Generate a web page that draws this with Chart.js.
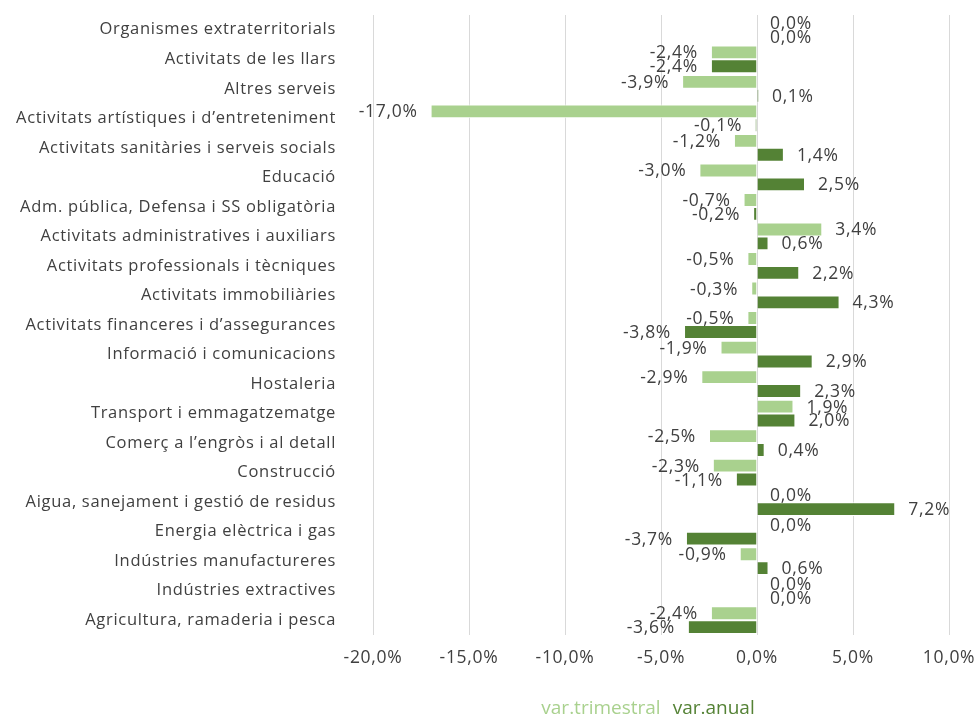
<!DOCTYPE html>
<html>
<head>
<meta charset="utf-8">
<script src="https://cdn.jsdelivr.net/npm/chart.js@4/dist/chart.umd.min.js"></script>
<style>
  html, body { margin: 0; padding: 0; background: #fff; }
  #wrap { width: 975px; height: 718px; }
</style>
</head>
<body>
<div id="wrap"><canvas id="chart" width="975" height="718"></canvas></div>
<script>
const categories = [
  "Organismes extraterritorials",
  "Activitats de les llars",
  "Altres serveis",
  "Activitats artístiques i d’entreteniment",
  "Activitats sanitàries i serveis socials",
  "Educació",
  "Adm. pública, Defensa i SS obligatòria",
  "Activitats administratives i auxiliars",
  "Activitats professionals i tècniques",
  "Activitats immobiliàries",
  "Activitats financeres i d’assegurances",
  "Informació i comunicacions",
  "Hostaleria",
  "Transport i emmagatzematge",
  "Comerç a l’engròs i al detall",
  "Construcció",
  "Aigua, sanejament i gestió de residus",
  "Energia elèctrica i gas",
  "Indústries manufactureres",
  "Indústries extractives",
  "Agricultura, ramaderia i pesca",
];
const varTrimestral = [0.0, -2.4, -3.9, -17.0, -1.2, -3.0, -0.7, 3.4, -0.5, -0.3, -0.5, -1.9, -2.9, 1.9, -2.5, -2.3, 0.0, 0.0, -0.9, 0.0, -2.4];
const varAnual      = [0.0, -2.4, 0.1, -0.1, 1.4, 2.5, -0.2, 0.6, 2.2, 4.3, -3.8, 2.9, 2.3, 2.0, 0.4, -1.1, 7.2, -3.7, 0.6, 0.0, -3.6];
const seriesNames = ["var.trimestral", "var.anual"];
const xMin = -20, xMax = 10, xStep = 5;

const LIGHT = "#a9d18e";
const DARK = "#548235";
const TEXT = "#404040";
const FONT = "'Open Sans', 'Noto Sans', sans-serif";
const SPACING = "0.7px";

function fmtPct(v) {
  return `${v.toFixed(1).replace(".", ",")}%`;
}

// wider text like the original font; chart.js has no letterSpacing option
const spacing = {
  id: "spacing",
  beforeLayout(chart) { chart.ctx.letterSpacing = SPACING; },
  beforeDraw(chart) { chart.ctx.letterSpacing = SPACING; },
};

// value labels at the bar ends, like excel "outside end"
const barLabels = {
  id: "barLabels",
  afterDatasetsDraw(chart) {
    const { ctx } = chart;
    ctx.save();
    ctx.letterSpacing = SPACING;
    ctx.font = `17.5px ${FONT}`;
    ctx.fillStyle = TEXT;
    ctx.textBaseline = "middle";
    chart.data.datasets.forEach((ds, i) => {
      const meta = chart.getDatasetMeta(i);
      meta.data.forEach((el, j) => {
        const v = ds.data[j];
        if (v < 0) {
          ctx.textAlign = "right";
          ctx.fillText(fmtPct(v), el.x - 13, el.y + 1);
        } else {
          ctx.textAlign = "left";
          ctx.fillText(fmtPct(v), el.x + 13, el.y + 1);
        }
      });
    });
    ctx.restore();
  },
};

// text-only legend in series colours
const textLegend = {
  id: "textLegend",
  afterDraw(chart) {
    const { ctx, chartArea } = chart;
    const colors = [LIGHT, DARK];
    const gap = 12;
    ctx.save();
    ctx.letterSpacing = "0px";
    ctx.font = `19px ${FONT}`;
    ctx.textBaseline = "middle";
    ctx.textAlign = "left";
    const widths = seriesNames.map(s => ctx.measureText(s).width);
    const total = widths.reduce((a, b) => a + b, 0) + gap;
    let x = (chartArea.left + chartArea.right) / 2 - 13 - total / 2;
    seriesNames.forEach((s, i) => {
      ctx.fillStyle = colors[i];
      ctx.fillText(s, x, 709);
      x += widths[i] + gap;
    });
    ctx.restore();
  },
};

new Chart(document.getElementById("chart"), {
  type: "bar",
  data: {
    labels: categories,
    datasets: [
      { label: seriesNames[0], data: varTrimestral, backgroundColor: LIGHT, borderColor: "#ffffff", borderWidth: 1 },
      { label: seriesNames[1], data: varAnual, backgroundColor: DARK, borderColor: "#ffffff", borderWidth: 1 },
    ],
  },
  options: {
    indexAxis: "y",
    responsive: false,
    devicePixelRatio: 1,
    animation: false,
    layout: { padding: { top: 15, right: 26, bottom: 43, left: 0 } },
    datasets: { bar: { categoryPercentage: 0.94, barPercentage: 1 } },
    plugins: {
      legend: { display: false },
      tooltip: { enabled: false },
    },
    scales: {
      x: {
        min: xMin,
        max: xMax,
        ticks: {
          stepSize: xStep,
          color: TEXT,
          font: { family: FONT, size: 17.5 },
          padding: 13,
          maxRotation: 0,
          callback: (v) => fmtPct(v),
        },
        grid: { color: "#d9d9d9", drawTicks: false },
        border: { display: false },
        afterFit: (s) => {
          s.height = 40;
          s.paddingLeft = 0;
          s.paddingRight = 0;
        },
      },
      y: {
        ticks: {
          color: TEXT,
          font: { family: FONT, size: 16.5 },
          padding: 37,
          autoSkip: false,
        },
        grid: { display: false, drawTicks: false },
        border: { display: false },
        afterFit: (s) => {
          s.width = 373;
          s.paddingTop = 0;
          s.paddingBottom = 0;
        },
      },
    },
  },
  plugins: [spacing, barLabels, textLegend],
});
</script>
</body>
</html>
